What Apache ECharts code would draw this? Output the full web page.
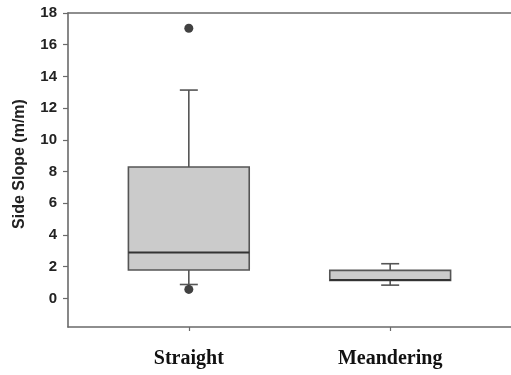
<!DOCTYPE html>
<html><head><meta charset="utf-8">
<script src="https://cdn.jsdelivr.net/npm/echarts@6/dist/echarts.min.js"></script>
<style>html,body{margin:0;padding:0;background:#fff}#c{width:511px;height:375px}</style>
</head><body><div id="c"></div>
<script>
const categories = ['Straight', 'Meandering'];
const lowWhisker = [0.88, 0.84];
const q1 = [1.79, 1.14];
const median = [2.9, 1.17];
const q3 = [8.29, 1.77];
const highWhisker = [13.14, 2.19];
const outliers = [[1, 17.04], [1, 0.57]];
const yTicks = [0, 2, 4, 6, 8, 10, 12, 14, 16, 18];
const xPositions = [1, 2];

const boxData = categories.map((c, i) => [xPositions[i], lowWhisker[i], q1[i], median[i], q3[i], highWhisker[i]]);

const chart = echarts.init(document.getElementById('c'), null, {renderer: 'canvas'});
const axisColor = '#6a6a6a';
chart.setOption({
  animation: false,
  backgroundColor: '#fff',
  grid: {left: 68, top: 13, right: -6, bottom: 48},
  xAxis: [{
    type: 'value', min: 0.4, max: 2.6,
    splitLine: {show: false},
    axisLine: {show: true, onZero: false, lineStyle: {color: axisColor, width: 1.6}},
    axisTick: {show: true, customValues: xPositions, length: 4, inside: false, lineStyle: {color: axisColor, width: 1.2}},
    axisLabel: {
      customValues: xPositions, margin: 22,
      formatter: v => categories[Math.round(v) - 1] || '',
      fontFamily: 'Liberation Serif', fontWeight: 'bold', fontSize: 20, color: '#111'
    }
  }, {
    type: 'value', min: 0.4, max: 2.6, position: 'top',
    splitLine: {show: false},
    axisLine: {show: true, onZero: false, lineStyle: {color: axisColor, width: 1.6}},
    axisTick: {show: false}, axisLabel: {show: false}
  }],
  yAxis: {
    type: 'value', min: -1.8, max: 18,
    name: 'Side Slope (m/m)', nameLocation: 'middle', nameGap: 40, nameRotate: 90,
    nameTextStyle: {fontFamily: 'Liberation Sans', fontWeight: 'bold', fontSize: 16, color: '#222', padding: [0, 0, 0, 12]},
    splitLine: {show: false},
    axisLine: {show: true, onZero: false, lineStyle: {color: axisColor, width: 1.6}},
    axisTick: {show: true, customValues: yTicks, length: 5, lineStyle: {color: axisColor, width: 1.2}},
    axisLabel: {customValues: yTicks, margin: 11, fontFamily: 'Liberation Sans', fontWeight: 'bold', fontSize: 15, color: '#222'}
  },
  series: [{
    type: 'custom',
    data: boxData,
    renderItem: function (params, api) {
      const x = api.value(0);
      const lo = api.coord([x, api.value(1)]);
      const b = api.coord([x, api.value(2)]);
      const m = api.coord([x, api.value(3)]);
      const t = api.coord([x, api.value(4)]);
      const hi = api.coord([x, api.value(5)]);
      const half = api.size([0.6, 0])[0] / 2;
      const cap = 9;
      const cx = lo[0];
      const ls = {stroke: '#555', lineWidth: 1.6};
      return {
        type: 'group',
        children: [
          {type: 'line', shape: {x1: cx, y1: t[1], x2: cx, y2: hi[1]}, style: ls},
          {type: 'line', shape: {x1: cx - cap, y1: hi[1], x2: cx + cap, y2: hi[1]}, style: ls},
          {type: 'line', shape: {x1: cx, y1: b[1], x2: cx, y2: lo[1]}, style: ls},
          {type: 'line', shape: {x1: cx - cap, y1: lo[1], x2: cx + cap, y2: lo[1]}, style: ls},
          {type: 'rect', shape: {x: cx - half, y: t[1], width: half * 2, height: b[1] - t[1]}, style: {fill: '#cbcbcb', stroke: '#555', lineWidth: 1.6}},
          {type: 'line', shape: {x1: cx - half, y1: m[1], x2: cx + half, y2: m[1]}, style: {stroke: '#333', lineWidth: 2}}
        ]
      };
    }
  }, {
    type: 'scatter',
    data: outliers,
    symbol: 'circle', symbolSize: 9,
    itemStyle: {color: '#111'}
  }]
});
</script></body></html>
